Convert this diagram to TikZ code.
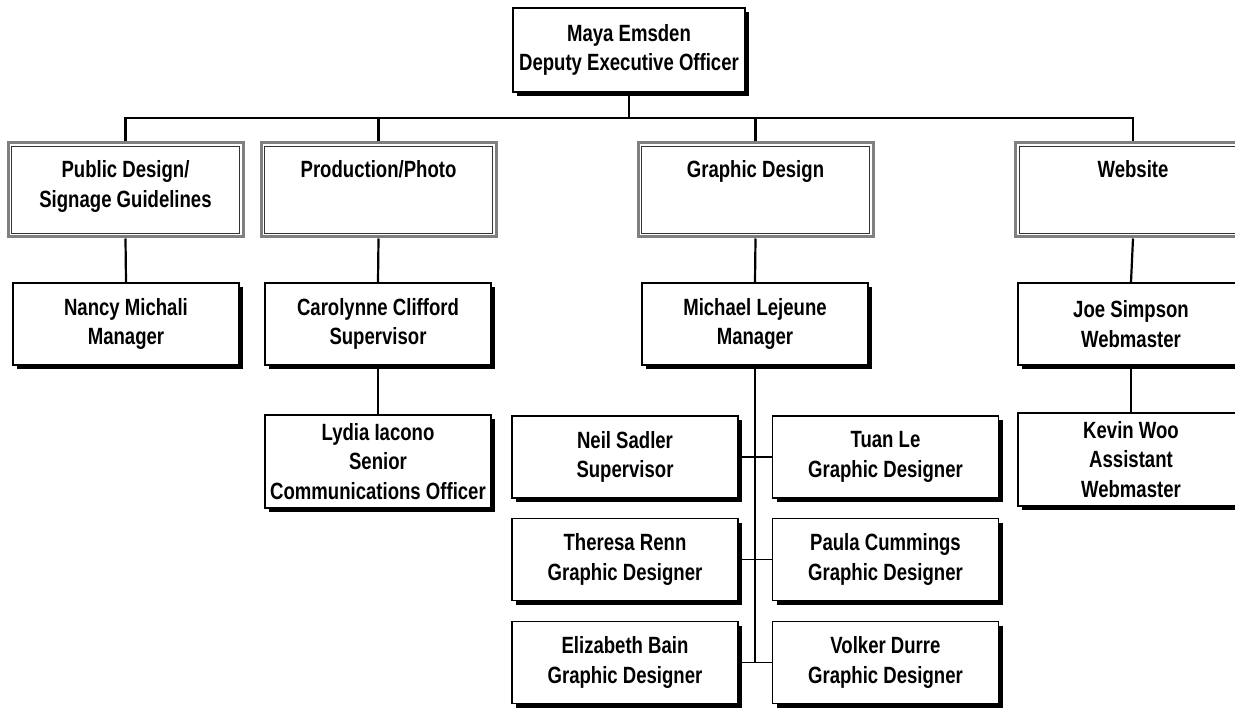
\documentclass[tikz,border=0pt]{standalone}
\usepackage{fontspec}
\setmainfont[FakeStretch=0.79]{Liberation Sans}
\usetikzlibrary{shadows}
\tikzset{
  person/.style={draw, line width=1.7pt, fill=white, minimum width=226pt, minimum height=82pt,
    align=center, inner sep=0pt, font=\fontsize{23.5}{29.5}\selectfont\bfseries,
    drop shadow={shadow xshift=4pt, shadow yshift=-4pt, fill=black, opacity=1}},
  tall/.style={minimum height=93pt},
  dept/.style={draw=black!50, line width=3pt, fill=white, minimum width=235pt, minimum height=94pt, inner sep=0pt},
  depttext/.style={align=center, inner sep=0pt, anchor=north, font=\fontsize{23.5}{29.5}\selectfont\bfseries},
  inner/.style={line width=0.8pt, draw=black!80},
  conn/.style={line width=2.2pt},
  connthin/.style={line width=1.6pt}
}
\begin{document}
\begin{tikzpicture}[x=1pt, y=-1pt]
\useasboundingbox (0,0) rectangle (1235,708);
% top
\node[person, minimum width=232pt, minimum height=84pt] (top) at (629,50) {Maya Emsden\\Deputy Executive Officer};
% departments
\node[dept] (d1) at (125.5,190) {};
\node[dept] (d2) at (378.5,190) {};
\node[dept] (d3) at (755.5,190) {};
\node[dept] (d4) at (1133,190) {};
\foreach \d in {d1,d2,d3,d4}{
  \draw[inner] ([shift={(5pt,-5pt)}]\d.north west) rectangle ([shift={(-5pt,5pt)}]\d.south east);
}
\node[depttext] (t1) at ([yshift=-19pt]d1.north) {Public Design/\\Signage Guidelines};
\node[depttext] (t2) at ([yshift=-19pt]d2.north) {Production/Photo};
\node[depttext] (t3) at ([yshift=-19pt]d3.north) {Graphic Design};
\node[depttext] (t4) at ([yshift=-19pt]d4.north) {Website};
% level 3
\node[person] (nancy) at (126,324) {Nancy Michali\\Manager};
\node[person] (carol) at (378,324) {Carolynne Clifford\\Supervisor};
\node[person] (mich) at (755,324) {Michael Lejeune\\Manager};
\node[person] (joe) at (1131,324) {Joe Simpson\\Webmaster};
\node[person, tall] (lydia) at (378,461.5) {Lydia Iacono\\Senior\\Communications Officer};
\node[person, tall] (kevin) at (1131,459.5) {Kevin Woo\\Assistant\\Webmaster};
% graphic grid
\node[person] (neil) at (625,457) {Neil Sadler\\Supervisor};
\node[person] (tuan) at (885.5,457) {Tuan Le\\Graphic Designer};
\node[person] (theresa) at (625,559.5) {Theresa Renn\\Graphic Designer};
\node[person] (paula) at (885.5,559.5) {Paula Cummings\\Graphic Designer};
\node[person] (eliz) at (625,662.5) {Elizabeth Bain\\Graphic Designer};
\node[person] (volker) at (885.5,662.5) {Volker Durre\\Graphic Designer};
% connectors
\coordinate (bus) at (629,118);
\draw[conn] (top.south) -- (bus);
\draw[conn] (d1.north) |- (bus -| d4.north) -- (d4.north);
\draw[conn] (d2.north) -- (d2.north |- bus);
\draw[conn] (d3.north) -- (d3.north |- bus);
\draw[conn] (d1.south) -- (nancy.north);
\draw[conn] (d2.south) -- (carol.north);
\draw[conn] (d3.south) -- (mich.north);
\draw[conn] (d4.south) -- (joe.north);
\draw[connthin] (carol.south) -- (lydia.north);
\draw[connthin] (joe.south) -- (kevin.north);
\draw[connthin] (mich.south) -- (mich.south |- eliz.east);
\draw[connthin] (neil.east) -- (tuan.west);
\draw[connthin] (theresa.east) -- (paula.west);
\draw[connthin] (eliz.east) -- (volker.west);
\end{tikzpicture}
\end{document}
